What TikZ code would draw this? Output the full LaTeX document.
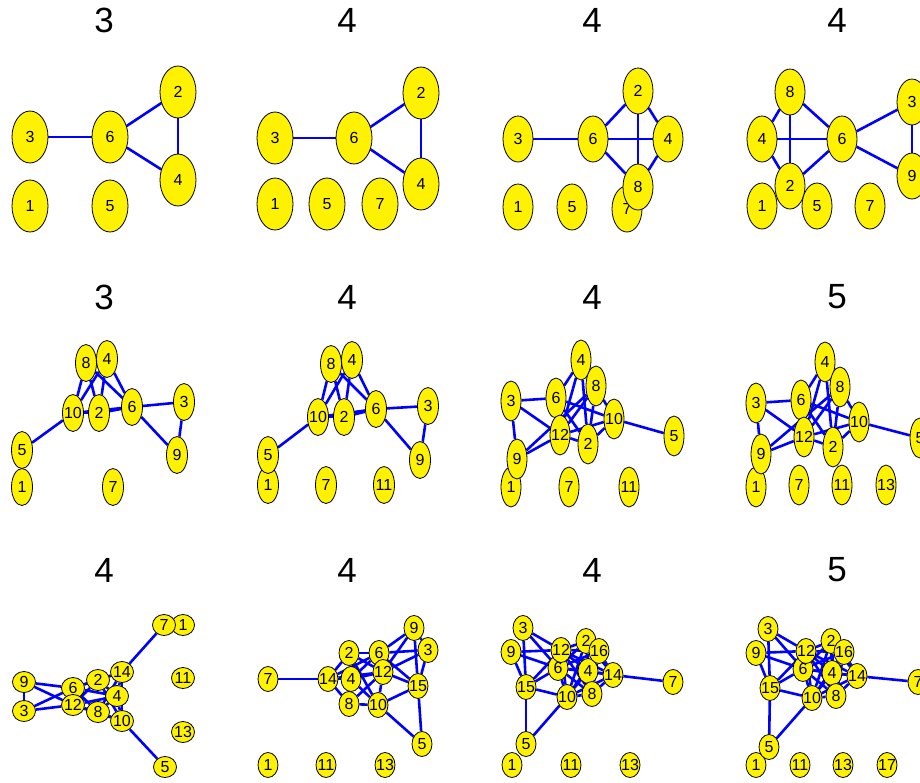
\documentclass[tikz,border=0pt]{standalone}
\usepackage{fontspec}
\setmainfont{Liberation Sans}
\usetikzlibrary{
    shapes.geometric,
    backgrounds
}
\tikzset{
    vtx/.style={
        ellipse,
        draw=black,
        line width=0.8pt,
        fill=yellow,
        inner sep=0pt,
        font=\fontsize{16}{16}\selectfont,
        execute at begin node={\hbox to 0pt\bgroup\hss},
        execute at end node={\hss\egroup}
    },
    vbig/.style={vtx, minimum width=36pt, minimum height=52pt},
    vmid/.style={vtx, minimum width=30pt, minimum height=46pt},
    vtall/.style={vtx, minimum width=21pt, minimum height=37pt},
    vlong/.style={vtx, minimum width=20pt, minimum height=40pt},
    vround/.style={vtx, minimum width=23pt, minimum height=21pt},
    voval/.style={vtx, minimum width=20pt, minimum height=25pt},
    edg/.style={blue, line width=2.6pt},
    ttl/.style={inner sep=0pt, font=\fontsize{35}{35}\selectfont}
}

\begin{document}
\begin{tikzpicture}[x=1pt, y=-1pt]

    \useasboundingbox (0,0) rectangle (920,782);

    % Titulos
    \node[ttl] (ta) at (104,20)  {3};
    \node[ttl] (tb) at (347,20)  {4};
    \node[ttl] (tc) at (592,20)  {4};
    \node[ttl] (td) at (837,20)  {4};
    \node[ttl] (te) at (104,297) {3};
    \node[ttl] (tf) at (347,297) {4};
    \node[ttl] (tg) at (592,297) {4};
    \node[ttl] (th) at (837,297) {5};
    \node[ttl] (ti) at (104,570) {4};
    \node[ttl] (tj) at (347,570) {4};
    \node[ttl] (tk) at (592,570) {4};
    \node[ttl] (tl) at (837,570) {5};

    % Fila 1
    \foreach \n/\x/\y in {1/30/206, 2/178/92, 3/30/137, 4/178/180, 5/110/206, 6/110/137}
        \node[vbig] (a\n) at (\x,\y) {\n};
    \foreach \n/\x/\y in {1/275/204, 2/421/93, 3/275/138, 4/421/184, 5/327/204,
                          6/354/138, 7/380/204}
        \node[vbig] (b\n) at (\x,\y) {\n};
    \foreach \n/\x/\y in {1/518/207, 2/638/91, 3/518/139, 4/668/139, 5/572/207,
                          6/593/139, 7/627/209, 8/638/187}
        \node[vmid] (c\n) at (\x,\y) {\n};
    \foreach \n/\x/\y in {1/762/206, 2/790/186, 3/912/102, 4/762/139, 5/817/206,
                          6/842/139, 7/870/206, 8/790/92, 9/912/176}
        \node[vmid] (d\n) at (\x,\y) {\n};

    % Fila 2
    \foreach \n/\x/\y in {1/22/487, 2/99/413, 3/184/402, 4/107/359, 5/22/450,
                          6/132/407, 7/113/487, 8/86/363, 9/177/455, 10/73/413}
        \node[vtall] (e\n) at (\x,\y) {\n};
    \foreach \n/\x/\y in {1/268/485, 2/344/417, 3/428/406, 4/352/360, 5/268/455,
                          6/376/409, 7/326/485, 8/331/364, 9/420/460, 10/318/417,
                          11/384/485}
        \node[vtall] (f\n) at (\x,\y) {\n};
    \foreach \n/\x/\y in {1/511/487, 2/588/444, 3/511/401, 4/581/360, 5/674/436,
                          6/556/398, 7/569/487, 8/596/386, 9/517/459, 10/614/419,
                          11/629/487, 12/560/435}
        \node[vlong] (g\n) at (\x,\y) {\n};
    \foreach \n/\x/\y in {1/756/487, 2/833/447, 3/756/403, 4/825/362, 5/920/438,
                          6/801/400, 7/799/485, 8/840/387, 9/761/454, 10/859/422,
                          11/842/485, 12/804/437, 13/886/485}
        \node[vlong] (h\n) at (\x,\y) {\n};

    % Fila 3
    \foreach \n/\x/\y in {1/183/625, 2/98/680, 3/24/711, 4/117/696, 5/165/767,
                          6/73/688, 7/164/625, 8/98/712, 9/24/682, 10/122/721,
                          11/183/678, 12/73/705, 13/183/732, 14/122/672}
        \node[vround] (i\n) at (\x,\y) {\n};
    \foreach \n/\x/\y in {1/268/765, 2/349/653, 3/428/650, 4/351/679, 5/422/744,
                          6/379/653, 7/268/679, 8/349/704, 9/414/628, 10/378/705,
                          11/326/765, 12/383/672, 13/385/765, 14/328/679, 15/418/686}
        \node[voval] (j\n) at (\x,\y) {\n};
    \foreach \n/\x/\y in {1/512/765, 2/586/641, 3/523/628, 4/588/671, 5/526/744,
                          6/558/668, 7/673/682, 8/592/694, 9/511/652, 10/567/697,
                          11/571/765, 12/561/650, 13/630/765, 14/613/675, 15/526/687,
                          16/599/651}
        \node[voval] (k\n) at (\x,\y) {\n};
    \foreach \n/\x/\y in {1/756/765, 2/831/641, 3/768/629, 4/832/673, 5/769/747,
                          6/803/669, 7/918/682, 8/836/696, 9/756/653, 10/812/698,
                          11/800/765, 12/806/651, 13/843/765, 14/857/676, 15/770/688,
                          16/844/652, 17/887/765}
        \node[voval] (l\n) at (\x,\y) {\n};

    % Aristas
    \begin{pgfonlayer}{background}
        \foreach \p in {a,b}
            \foreach \u/\v in {3/6, 6/2, 6/4, 2/4}
                \draw[edg] (\p\u) -- (\p\v);
        \foreach \u/\v in {3/6, 6/2, 6/4, 6/8, 2/4, 2/8, 4/8}
            \draw[edg] (c\u) -- (c\v);
        \foreach \u/\v in {8/4, 8/2, 8/6, 4/6, 4/2, 2/6, 6/3, 6/9, 3/9}
            \draw[edg] (d\u) -- (d\v);
        \foreach \p in {e,f}
            \foreach \u/\v in {8/10, 8/2, 8/6, 4/10, 4/2, 4/6, 10/2, 2/6, 10/6,
                               10/5, 6/3, 6/9, 3/9}
                \draw[edg] (\p\u) -- (\p\v);
        \foreach \p in {g,h}
            \foreach \u/\v in {3/6, 3/12, 3/9, 9/12, 9/8, 6/4, 6/10, 6/2, 6/12,
                               12/4, 12/8, 12/2, 12/10, 4/2, 4/8, 8/2, 8/10,
                               2/10, 10/5}
                \draw[edg] (\p\u) -- (\p\v);
        \foreach \u/\v in {9/3, 9/6, 9/12, 3/6, 3/12, 6/12, 6/2, 6/4, 6/8, 6/14,
                           12/2, 12/4, 12/8, 12/10, 2/4, 2/14, 2/10, 4/14, 4/8,
                           4/10, 8/10, 8/14, 14/7, 14/10, 10/5}
            \draw[edg] (i\u) -- (i\v);
        \foreach \u/\v in {7/14, 14/2, 14/4, 14/8, 14/6, 14/12, 2/6, 2/4, 2/12,
                           2/10, 4/6, 4/12, 4/8, 4/10, 6/12, 6/9, 6/3, 6/15,
                           12/9, 12/3, 12/15, 12/10, 12/8, 9/15, 3/15, 9/3,
                           10/15, 10/5, 15/5, 8/10}
            \draw[edg] (j\u) -- (j\v);
        \foreach \p in {k,l}
            \foreach \u/\v in {3/12, 3/6, 3/15, 9/12, 9/6, 9/15, 15/12, 15/6,
                               15/10, 15/5, 5/10, 14/7, 12/2, 12/16, 12/4,
                               12/14, 12/8, 12/10, 6/2, 6/16, 6/4, 6/14, 6/8,
                               6/10, 2/16, 2/4, 2/14, 2/8, 2/10, 16/4, 16/14,
                               16/8, 16/10, 4/14, 4/8, 4/10, 14/8, 14/10, 10/8}
                \draw[edg] (\p\u) -- (\p\v);
    \end{pgfonlayer}

\end{tikzpicture}
\end{document}
